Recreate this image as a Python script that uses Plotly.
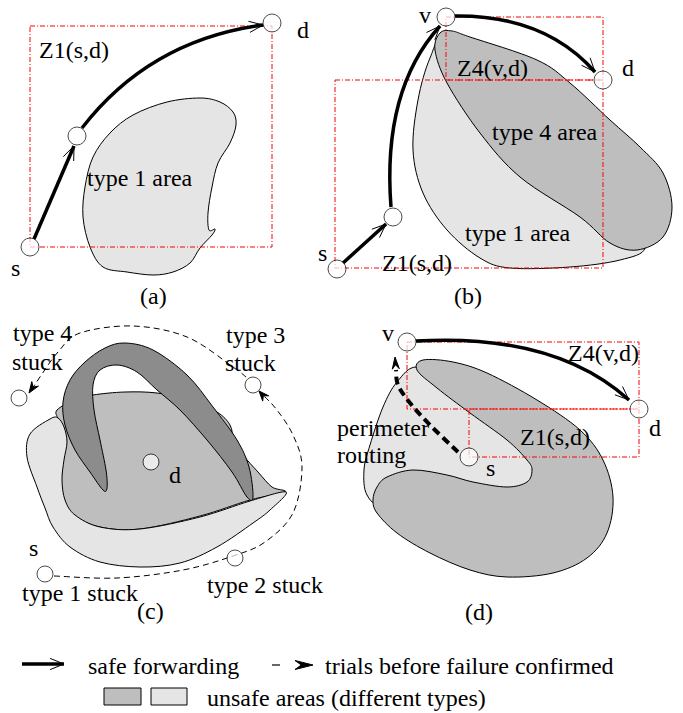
import math
import plotly.graph_objects as go

W, H = 683, 713
FONT = "Liberation Serif"
FS = 24
LIGHT = "#e5e5e5"
MED = "#bebebe"
DARK = "#8c8c8c"
RED = "#ff0000"
REDDASH = "5px,2px,1px,2px"

# ---------------- nodes ----------------
node_x = [30, 77, 272, 337, 393, 446, 603, 19, 253, 235, 45, 151, 407, 639, 469]
node_y = [247, 136, 23, 269, 217, 17, 80, 398, 385, 558, 574, 462, 342, 409, 457]
node_size = [18, 18, 18, 18, 18, 18, 18, 16, 16, 16, 16, 16, 18, 18, 18]

# ---------------- zones (rectangles) ----------------
zone_x0 = [30, 446, 335, 407, 469]
zone_y0 = [26, 17, 80, 342, 409]
zone_x1 = [272, 603, 603, 639, 639]
zone_y1 = [247, 80, 268, 409, 457]

# ---------------- unsafe areas ----------------
blob_a = [(200, 98), (220, 102), (233, 112), (236, 125), (230, 143), (218, 163), (212, 187),
          (208, 213), (209, 230), (215, 229), (212, 235), (200, 248), (190, 263), (173, 272),
          (153, 275), (127, 272), (103, 267), (90, 247), (83, 217), (85, 187), (93, 157),
          (110, 133), (133, 115), (167, 102)]
blob_b_light = [(447, 33), (430, 58), (418, 100), (413, 150), (423, 193), (447, 230), (480, 258),
                (510, 268), (570, 267), (620, 260), (645, 248), (630, 220), (560, 150), (480, 80)]
blob_b_dark = [(440, 33), (452, 31), (470, 37), (537, 60), (570, 83), (610, 120), (640, 147),
               (663, 173), (672, 207), (663, 237), (637, 250), (610, 243), (580, 217), (520, 177),
               (480, 133), (447, 83), (435, 50)]
blob_c_med = [(57, 410), (75, 400), (93, 395), (125, 392), (157, 393), (190, 400), (217, 412),
              (230, 425), (234, 440), (243, 455), (258, 472), (272, 487), (285, 492), (250, 500),
              (200, 516), (140, 529), (100, 527), (74, 515), (61, 495), (62, 470), (62, 440), (58, 420)]
blob_c_light = [(50, 419), (58, 418), (64, 427), (67, 442), (64, 460), (62, 480), (65, 500),
                (75, 515), (100, 527), (140, 529), (200, 517), (250, 501), (286, 492), (270, 510),
                (253, 523), (217, 547), (180, 563), (140, 567), (100, 562), (70, 547), (53, 527),
                (45, 508), (37, 487), (27, 457), (30, 434)]
blob_c_dark = [(103, 490), (90, 472), (75, 450), (65, 425), (63, 402), (70, 380), (85, 362),
               (105, 348), (125, 343), (153, 350), (187, 375), (213, 407), (237, 440), (249, 467),
               (253, 497), (247, 497), (232, 472), (207, 440), (180, 410), (157, 390), (137, 372),
               (117, 365), (100, 370), (93, 385), (94, 410), (100, 440), (106, 470), (107, 488)]
blob_d_light = [(417, 367), (397, 382), (383, 407), (370, 445), (364, 470), (367, 495), (385, 505),
                (450, 500), (520, 490), (540, 470), (500, 420), (450, 385)]
blob_d_dark = [(417, 370), (423, 360), (453, 362), (487, 373), (537, 400), (580, 430), (603, 460),
               (613, 497), (607, 533), (587, 558), (553, 573), (507, 577), (470, 570), (430, 553),
               (397, 533), (377, 513), (373, 500), (377, 487), (387, 477), (413, 470), (447, 475),
               (473, 482), (507, 487), (527, 482), (532, 470), (527, 460), (507, 440), (470, 413),
               (437, 388)]

# ---------------- routes ----------------
# straight safe-forwarding segments: (x0, y0, x1, y1)
safe_lines = [(34, 239, 74, 146), (343, 263, 386, 224), (22, 664, 64, 664)]
# curved safe-forwarding segments: quadratic (start, control, end)
safe_curves = [((82, 128), (150, 40), (263, 25)),
               ((391, 207), (382, 90), (440, 26)),
               ((455, 16), (545, 15), (595, 72)),
               ((416, 341), (555, 333), (629, 400))]
trial_c1 = [(54, 576), (117, 578), (183, 570), (233, 556), (265, 542), (293, 513), (302, 467),
            (293, 435), (277, 410), (263, 395)]
trial_c2 = [(246, 377), (233, 367), (187, 337), (133, 326), (80, 333), (58, 352), (42, 374), (32, 389)]
trial_d = [(458, 452), (430, 425), (410, 403), (398, 385), (396, 370)]

# ---------------- labels ----------------
label_text = ["Z1(s,d)", "d", "s", "type 1 area", "(a)",
              "v", "d", "s", "Z4(v,d)", "type 4 area", "type 1 area", "Z1(s,d)", "(b)",
              "type 4", "stuck", "type 3", "stuck", "d", "s", "type 1 stuck", "type 2 stuck", "(c)",
              "v", "d", "s", "Z4(v,d)", "Z1(s,d)", "(d)"]
label_x = [74, 303, 15, 140, 153,
           425, 628, 322, 492, 545, 518, 417, 468,
           42, 37, 255, 250, 175, 33, 80, 265, 150,
           388, 655, 490, 603, 555, 479]
label_y = [50, 30, 268, 178, 296,
           15, 68, 253, 68, 132, 233, 263, 296,
           333, 362, 335, 363, 475, 548, 593, 585, 611,
           333, 428, 468, 353, 437, 612]
left_text = ["perimeter", "routing", "safe forwarding", "trials before failure confirmed",
             "unsafe areas (different types)"]
left_x = [335, 335, 86, 323, 205]
left_y = [428, 455, 666, 666, 698]
legend_boxes = [(104, 688, 141, 705, MED), (151, 688, 187, 705, LIGHT)]


def smooth(pts, closed=True):
    n = len(pts)

    def P(i):
        if closed:
            return pts[i % n]
        return pts[max(0, min(n - 1, i))]

    segs = n if closed else n - 1
    d = "M %.1f %.1f" % pts[0]
    for i in range(segs):
        p0, p1, p2, p3 = P(i - 1), P(i), P(i + 1), P(i + 2)
        c1 = (p1[0] + (p2[0] - p0[0]) / 6, p1[1] + (p2[1] - p0[1]) / 6)
        c2 = (p2[0] - (p3[0] - p1[0]) / 6, p2[1] - (p3[1] - p1[1]) / 6)
        d += " C %.1f %.1f %.1f %.1f %.1f %.1f" % (c1[0], c1[1], c2[0], c2[1], p2[0], p2[1])
    if closed:
        d += " Z"
    return d


def unit(tip, frm):
    dx, dy = tip[0] - frm[0], tip[1] - frm[1]
    n = math.hypot(dx, dy)
    return dx / n, dy / n


def vhead(tip, frm, L=15, ang=22):
    ux, uy = unit(tip, frm)
    pts = []
    for s in (1, -1):
        a = math.radians(s * ang)
        bx, by = -ux, -uy
        rx = bx * math.cos(a) - by * math.sin(a)
        ry = bx * math.sin(a) + by * math.cos(a)
        pts.append((tip[0] + L * rx, tip[1] + L * ry))
    return "M %.1f %.1f L %.1f %.1f L %.1f %.1f" % (pts[0][0], pts[0][1], tip[0], tip[1], pts[1][0], pts[1][1])


def barb(tip, frm, L=11, w=4.5):
    ux, uy = unit(tip, frm)
    px, py = -uy, ux
    bx, by = tip[0] - L * ux, tip[1] - L * uy
    nx, ny = tip[0] - 0.65 * L * ux, tip[1] - 0.65 * L * uy
    return "M %.1f %.1f L %.1f %.1f L %.1f %.1f L %.1f %.1f Z" % (
        tip[0], tip[1], bx + w * px, by + w * py, nx, ny, bx - w * px, by - w * py)


shapes = []


def add_path(path, fill=None, color="black", width=1, dash=None):
    line = dict(color=color, width=width)
    if dash:
        line["dash"] = dash
    s = dict(type="path", path=path, xref="x", yref="y", line=line, layer="below")
    if fill:
        s["fillcolor"] = fill
    shapes.append(s)


# unsafe areas
add_path(smooth(blob_a), fill=LIGHT)
add_path(smooth(blob_b_light), fill=LIGHT)
add_path(smooth(blob_b_dark), fill=MED)
add_path(smooth(blob_c_med), fill=MED)
add_path(smooth(blob_c_light), fill=LIGHT)
add_path(smooth(blob_c_dark), fill=DARK)
add_path(smooth(blob_d_light), fill=LIGHT)
add_path(smooth(blob_d_dark), fill=MED)

# zones
for x0, y0, x1, y1 in zip(zone_x0, zone_y0, zone_x1, zone_y1):
    shapes.append(dict(type="rect", xref="x", yref="y", x0=x0, y0=y0, x1=x1, y1=y1,
                       line=dict(color=RED, width=1, dash=REDDASH), layer="below"))

# safe forwarding
for x0, y0, x1, y1 in safe_lines:
    add_path("M %d %d L %d %d" % (x0, y0, x1, y1), width=3.5)
    add_path(vhead((x1, y1), (x0, y0)), width=1)
for p0, c, p1 in safe_curves:
    add_path("M %d %d Q %d %d %d %d" % (p0[0], p0[1], c[0], c[1], p1[0], p1[1]), width=3.5)
    add_path(vhead(p1, c), width=1)

# trials
add_path(smooth(trial_c1, closed=False), width=1, dash="6px,4px")
add_path(barb((259, 391), (268, 401), L=10, w=4), fill="black")
add_path(smooth(trial_c2, closed=False), width=1, dash="6px,4px")
add_path(barb((29, 393), (37, 381), L=11, w=4), fill="black")
add_path(smooth(trial_d, closed=False), width=4, dash="8px,5px")
add_path(barb((395, 357), (396, 372), L=12, w=3.5), fill="black")
# legend trial arrow
add_path("M 272 665 L 280 665", width=1.2)
add_path(barb((313, 665), (295, 665), L=18, w=4.5), fill="black")

for x0, y0, x1, y1, col in legend_boxes:
    shapes.append(dict(type="rect", xref="x", yref="y", x0=x0, y0=y0, x1=x1, y1=y1,
                       fillcolor=col, line=dict(color="black", width=1), layer="below"))

fig = go.Figure()
fig.add_trace(go.Scatter(x=node_x, y=node_y, mode="markers", hoverinfo="skip",
                         marker=dict(size=node_size, color="white",
                                     line=dict(color="black", width=1))))

ann = []
for t, x, y in zip(label_text, label_x, label_y):
    ann.append(dict(text=t, x=x, y=y, xref="x", yref="y", showarrow=False,
                    xanchor="center", yanchor="middle",
                    font=dict(family=FONT, size=FS, color="black")))
for t, x, y in zip(left_text, left_x, left_y):
    ann.append(dict(text=t, x=x, y=y, xref="x", yref="y", showarrow=False,
                    xanchor="left", yanchor="middle",
                    font=dict(family=FONT, size=FS, color="black")))

fig.update_layout(
    width=W, height=H, margin=dict(l=0, r=0, t=0, b=0, pad=0),
    paper_bgcolor="white", plot_bgcolor="white", showlegend=False,
    xaxis=dict(range=[0, W], visible=False, fixedrange=True),
    yaxis=dict(range=[H, 0], visible=False, fixedrange=True),
    shapes=shapes, annotations=ann,
)
fig.write_html("out.html", config={"displayModeBar": False},
               post_script="document.body.style.margin='0px';document.body.style.overflow='hidden';")
